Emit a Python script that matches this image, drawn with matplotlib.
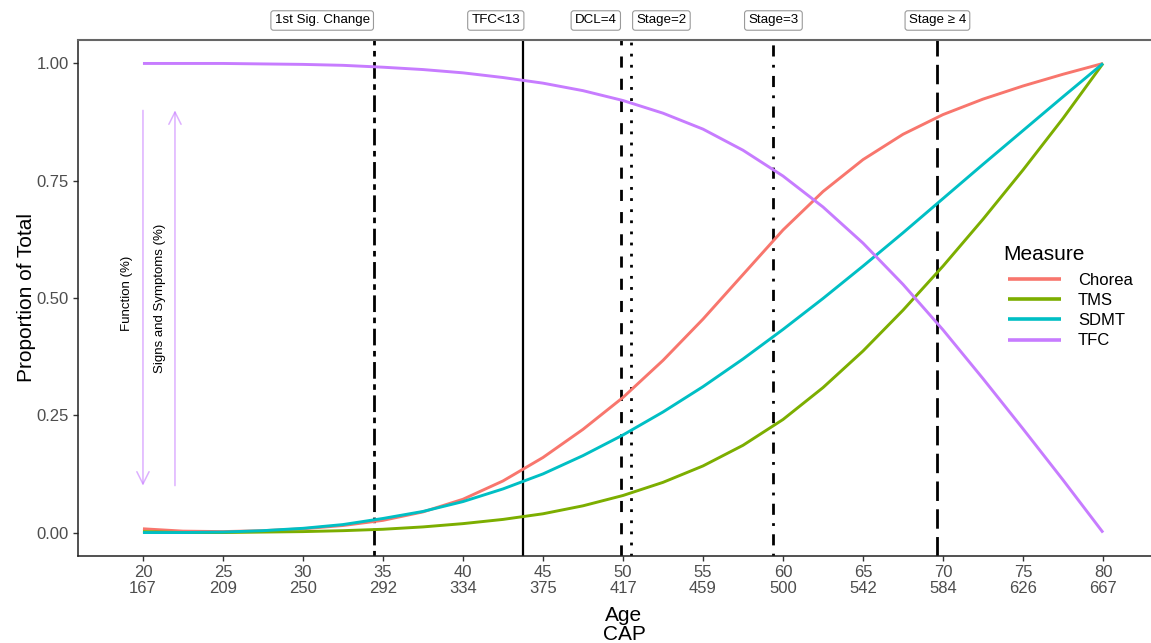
import matplotlib.pyplot as plt

plt.rcParams['font.family'] = ['Liberation Sans', 'DejaVu Sans']

# values
age = [20, 22.5, 25, 27.5, 30, 32.5, 35, 37.5, 40, 42.5, 45, 47.5, 50,
       52.5, 55, 57.5, 60, 62.5, 65, 67.5, 70, 72.5, 75, 77.5, 80]
chorea = [0.008, 0.003, 0.002, 0.004, 0.008, 0.015, 0.026, 0.044, 0.071, 0.110, 0.160, 0.220, 0.288,
          0.367, 0.455, 0.550, 0.645, 0.727, 0.795, 0.849, 0.891, 0.924, 0.952, 0.977, 1.0]
tms = [0.002, 0.0, 0.0, 0.001, 0.002, 0.004, 0.007, 0.012, 0.019, 0.028, 0.040, 0.057, 0.079,
       0.107, 0.142, 0.186, 0.241, 0.309, 0.387, 0.474, 0.568, 0.668, 0.773, 0.883, 1.0]
sdmt = [0.0, 0.0, 0.001, 0.004, 0.009, 0.017, 0.030, 0.045, 0.066, 0.093, 0.125, 0.164, 0.208,
        0.257, 0.311, 0.370, 0.433, 0.499, 0.568, 0.639, 0.712, 0.785, 0.857, 0.929, 1.0]
tfc = [1.0, 1.0, 1.0, 0.999, 0.998, 0.996, 0.992, 0.987, 0.980, 0.970, 0.958, 0.942, 0.921,
       0.894, 0.860, 0.815, 0.760, 0.694, 0.617, 0.529, 0.432, 0.328, 0.221, 0.112, 0.0]

series = {'Chorea': chorea, 'TMS': tms, 'SDMT': sdmt, 'TFC': tfc}
colors = {'Chorea': '#F8766D', 'TMS': '#7CAE00', 'SDMT': '#00BFC4', 'TFC': '#C77CFF'}

age_ticks = [20, 25, 30, 35, 40, 45, 50, 55, 60, 65, 70, 75, 80]
cap_ticks = [167, 209, 250, 292, 334, 375, 417, 459, 500, 542, 584, 626, 667]

event_names = ['1st Sig. Change', 'TFC<13', 'DCL=4', 'Stage=2', 'Stage=3', 'Stage ≥ 4']
event_age = [34.44, 43.75, 49.85, 50.5, 59.4, 69.65]
label_age = [31.2, 42.05, 48.3, 52.4, 59.4, 69.65]
event_ls = [(0, (2, 2, 6, 2)), '-', (0, (4, 4)), (0, (1, 3)), (0, (1, 3, 4, 3)), (0, (7, 3))]

W, H = 1151, 643
fig = plt.figure(figsize=(W / 100, H / 100), dpi=100)
ax = fig.add_axes([78 / W, 87 / H, 1090 / W, 516 / H])

for name, vals in series.items():
    ax.plot(age, vals, color=colors[name], lw=2.1, label=name, solid_capstyle='butt',
            solid_joinstyle='round', zorder=3)

for x, ls in zip(event_age, event_ls):
    ax.axvline(x, color='black', lw=2.0 if ls != '-' else 1.6, linestyle=ls,
               dash_capstyle='butt', zorder=2)

for x, txt in zip(label_age, event_names):
    ax.text(x, 1.0378, txt, transform=ax.get_xaxis_transform(), ha='center', va='center',
            fontsize=9.6, clip_on=False,
            bbox=dict(boxstyle='round,pad=0.28,rounding_size=0.2', fc='white', ec='#9a9a9a', lw=0.8))

arrow_col = '#C77CFF'
ax.annotate('', xy=(20, 0.1), xytext=(20, 0.9),
            arrowprops=dict(arrowstyle='->', color=arrow_col, alpha=0.6, lw=1.1, mutation_scale=22,
                            shrinkA=0, shrinkB=0))
ax.annotate('', xy=(22, 0.9), xytext=(22, 0.1),
            arrowprops=dict(arrowstyle='->', color=arrow_col, alpha=0.6, lw=1.1, mutation_scale=22,
                            shrinkA=0, shrinkB=0))
ax.text(19.0, 0.51, 'Function (%)', rotation=90, ha='center', va='center', fontsize=9.5)
ax.text(21.06, 0.50, 'Signs and Symptoms (%)', rotation=90, ha='center', va='center', fontsize=9.5)

ax.set_xlim(15.94, 84.06)
ax.set_ylim(-0.05, 1.05)
ax.set_xticks(age_ticks, [f'{a}\n{c}' for a, c in zip(age_ticks, cap_ticks)], linespacing=1.05)
ax.set_yticks([0, 0.25, 0.5, 0.75, 1.0], ['0.00', '0.25', '0.50', '0.75', '1.00'])
ax.tick_params(length=3.6, width=1.0, color='#333333', labelcolor='#4D4D4D', labelsize=12, pad=3)

ax.spines['right'].set_visible(False)
for s in ['left', 'bottom']:
    ax.spines[s].set_color('#222222')
    ax.spines[s].set_linewidth(1.1)
ax.spines['top'].set_color('#666666')
ax.spines['top'].set_linewidth(1.5)

fig.text(27 / W, 1 - 298 / H, 'Proportion of Total', rotation=90, ha='center', va='center', fontsize=15)
fig.text(624 / W, 1 - 625 / H, 'Age\nCAP', ha='center', va='center', fontsize=15, linespacing=0.95)

# legend title drawn separately so the gap to the entries matches
fig.text(1003 / W, 1 - 255 / H, 'Measure', ha='left', va='center', fontsize=15)
leg = fig.legend(loc='upper left', bbox_to_anchor=(1008 / W, 1 - 273 / H), frameon=False,
                 fontsize=12, handlelength=3.2, handletextpad=1.0, labelspacing=0.31,
                 borderpad=0, borderaxespad=0)
for line in leg.get_lines():
    line.set_linewidth(2.6)

fig.savefig('out.png', dpi=100)
